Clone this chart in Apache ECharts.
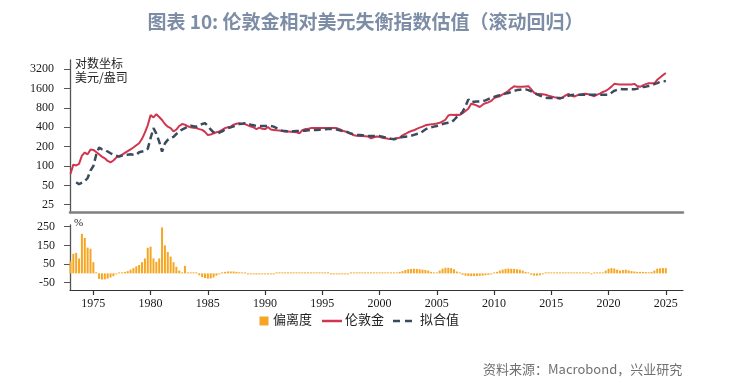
<!DOCTYPE html>
<html><head><meta charset="utf-8">
<script src="https://cdn.jsdelivr.net/npm/echarts@6/dist/echarts.min.js"></script>
<style>html,body{margin:0;padding:0;background:#fff}#c{width:731px;height:383px}</style>
</head><body><div id="c"></div>
<script>
// quarterly observations starting 1973 Q1
const startYear = 1973;
const stepYears = 0.25;

// London gold, USD/oz (log scale in chart)
const gold = [
  75, 105, 102, 108,
  145, 162, 152, 180,
  178, 165, 152, 140,
  132, 120, 114, 122,
  135, 143, 149, 160,
  171, 182, 194, 210,
  226, 265, 330, 430,
  620, 570, 640, 580,
  520, 450, 410, 390,
  345, 370, 420, 450,
  440, 415, 400, 395,
  389, 375, 365, 340,
  303, 310, 322, 335,
  345, 365, 389, 400,
  410, 440, 455, 465,
  455, 450, 430, 412,
  400, 376, 395, 380,
  376, 404, 370, 365,
  360, 356, 350, 345,
  343, 340, 337, 335,
  322, 360, 376, 380,
  389, 389, 389, 389,
  389, 389, 389, 389,
  389, 389, 375, 356,
  345, 330, 318, 300,
  295, 292, 292, 290,
  288, 270, 280, 288,
  285, 275, 270, 265,
  263, 265, 270, 275,
  300, 315, 335, 350,
  360, 378, 395, 410,
  430, 440, 445, 452,
  460, 470, 495, 525,
  610, 630, 625, 630,
  623, 665, 720, 780,
  930, 910, 870, 830,
  900, 950, 980, 1030,
  1140, 1180, 1220, 1300,
  1380, 1480, 1620, 1740,
  1720, 1710, 1710, 1730,
  1750, 1560, 1380, 1320,
  1320, 1310, 1290, 1240,
  1210, 1180, 1160, 1110,
  1170, 1260, 1330, 1240,
  1210, 1260, 1290, 1320,
  1330, 1310, 1260, 1220,
  1290, 1340, 1420, 1480,
  1580, 1720, 1900, 1880,
  1850, 1850, 1850, 1850,
  1860, 1900, 1760, 1710,
  1800, 1880, 1940, 1940,
  1940, 2200, 2380, 2600,
  2800
];

// fitted value (rolling regression), USD/oz
const fitted = [
  null, null, 56, 52,
  55, 58, 65, 85,
  100, 150, 194, 182,
  178, 168, 158, 150,
  145, 140, 145, 149,
  150, 152, 150, 149,
  164, 168, 172, 185,
  272, 389, 320, 240,
  167, 225, 255, 272,
  285, 315, 345, 370,
  389, 410, 424, 415,
  410, 437, 450, 465,
  420, 370, 335, 322,
  330, 345, 370, 389,
  400, 415, 435, 450,
  455, 465, 455, 440,
  430, 420, 420, 420,
  420, 420, 420, 410,
  390, 370, 355, 350,
  345, 345, 348, 350,
  350, 352, 355, 360,
  362, 365, 365, 368,
  370, 374, 376, 376,
  376, 370, 360, 350,
  345, 335, 320, 310,
  305, 303, 300, 296,
  294, 293, 292, 292,
  292, 285, 278, 270,
  265, 262, 265, 275,
  283, 286, 288, 295,
  305, 315, 322, 345,
  370, 390, 400, 410,
  420, 435, 450, 462,
  472, 480, 520, 580,
  623, 700, 845, 1085,
  980, 1000, 1010, 1010,
  1020, 1050, 1100, 1150,
  1190, 1230, 1270, 1310,
  1340, 1370, 1420, 1480,
  1520, 1540, 1560, 1560,
  1520, 1450, 1370, 1300,
  1250, 1200, 1160, 1140,
  1140, 1140, 1140, 1140,
  1160, 1200, 1240, 1270,
  1290, 1290, 1290, 1290,
  1290, 1290, 1290, 1290,
  1290, 1290, 1290, 1290,
  1290, 1380, 1480, 1540,
  1580, 1570, 1560, 1560,
  1560, 1560, 1600, 1650,
  1700, 1720, 1760, 1820,
  1880, 1950, 2030, 2070,
  2100
];

// deviation, %
const deviation = [
  65, 105, 110, 80,
  212, 190, 138, 132,
  60, 5, -30, -33,
  -32, -28, -22, -15,
  -5, 2, 5, 8,
  12, 20, 28, 38,
  45, 60, 80, 137,
  143, 80, 62, 80,
  246, 150, 115, 90,
  60, 35, 15, 5,
  40, 5, 5, 2,
  0, -10, -20, -25,
  -28, -27, -22, -12,
  -3, 5, 8, 10,
  10, 10, 8, 6,
  3, 0, -3, -5,
  -5, -6, -5, -4,
  -4, -3, -2, -1,
  0, 1, 2, 3,
  3, 3, 3, 4,
  4, 5, 5, 5,
  5, 5, 4, 3,
  2, 1, 0, -1,
  -2, -2, -2, -2,
  -1, -1, 0, 0,
  0, 1, 1, 1,
  1, 1, 0, 0,
  0, 0, 1, 1,
  2, 3, 5, 8,
  12, 18, 22, 24,
  25, 24, 22, 20,
  18, 15, 8, 3,
  5, 15, 25, 30,
  30, 28, 22, 10,
  0, -8, -12, -14,
  -15, -14, -14, -13,
  -12, -10, -8, -5,
  0, 8, 15, 20,
  24, 26, 25, 24,
  22, 20, 15, 8,
  0, -8, -12, -12,
  -10, -5, 0, 5,
  5, 3, 1, 0,
  1, 2, 2, 1,
  0, 1, 2, 2,
  1, 0, -1, 0,
  1, 2, 5, 15,
  25, 28, 26, 20,
  15, 18, 20, 16,
  12, 10, 8, 8,
  8, 7, 6, 8,
  15, 25, 27, 28,
  28
];

const priceTicks = [25, 50, 100, 200, 400, 800, 1600, 3200];
const devTicks = [-50, 50, 150, 250];
const yearTicks = [1975, 1980, 1985, 1990, 1995, 2000, 2005, 2010, 2015, 2020, 2025];

const titleText = '图表 10: 伦敦金相对美元失衡指数估值（滚动回归）';
const legendNames = ['偏离度', '伦敦金', '拟合值'];
const sourceText = '资料来源：Macrobond，兴业研究';

const dateOf = i => startYear + i * stepYears;
const goldData = gold.map((v, i) => [dateOf(i), Math.log2(v)]);
const fittedData = [];
fitted.forEach((v, i) => { if (v != null) fittedData.push([dateOf(i), Math.log2(v)]); });
const devData = deviation.map((v, i) => [dateOf(i), v]);

const C_GOLD = '#d1354f', C_FIT = '#3c4a5e', C_BAR = '#f5a623';
const serif = '"Liberation Serif", "DejaVu Serif", serif';
const cjk = '"Noto Sans CJK SC", sans-serif';

const chart = echarts.init(document.getElementById('c'), null, {renderer: 'canvas'});
const xMin = 1972.96, xMax = 2026.5;

chart.setOption({
  animation: false,
  backgroundColor: '#fff',
  grid: [
    {left: 70, right: 48, top: 60, height: 152.7, containLabel: false},
    {left: 70, right: 48, top: 225, height: 65, containLabel: false}
  ],
  xAxis: [
    {type: 'value', gridIndex: 0, min: xMin, max: xMax,
     axisLine: {show: true, onZero: false, lineStyle: {color: '#808080', width: 2.5}},
     axisTick: {show: false}, axisLabel: {show: false}, splitLine: {show: false}},
    {type: 'value', gridIndex: 1, min: xMin, max: xMax,
     axisLine: {show: true, onZero: false, lineStyle: {color: '#333', width: 1.2}},
     axisTick: {show: true, customValues: yearTicks, length: 5, inside: false, lineStyle: {color: '#333', width: 1.2}},
     axisLabel: {show: true, customValues: yearTicks, formatter: v => String(Math.round(v)),
                 color: '#1a1a1a', fontFamily: serif, fontSize: 12, margin: 8},
     splitLine: {show: false}}
  ],
  yAxis: [
    {type: 'value', gridIndex: 0, min: Math.log2(25) - 8 / 19.3, max: Math.log2(3200) + 9.3 / 19.3,
     axisLine: {show: true, onZero: false, lineStyle: {color: '#555', width: 1.3}},
     axisTick: {show: true, customValues: priceTicks.map(Math.log2), length: 6, lineStyle: {color: '#555'}},
     axisLabel: {show: true, customValues: priceTicks.map(Math.log2),
                 formatter: v => String(Math.round(Math.pow(2, v))),
                 color: '#1a1a1a', fontFamily: serif, fontSize: 12, margin: 16},
     splitLine: {show: false}},
    {type: 'value', gridIndex: 1, min: -89, max: 259,
     axisLine: {show: true, onZero: false, lineStyle: {color: '#555', width: 1.3}},
     axisTick: {show: true, customValues: devTicks, length: 6, lineStyle: {color: '#555'}},
     axisLabel: {show: true, customValues: devTicks, color: '#1a1a1a', fontFamily: serif, fontSize: 12, margin: 15},
     splitLine: {show: false}}
  ],
  series: [
    {name: legendNames[0], type: 'bar', xAxisIndex: 1, yAxisIndex: 1, data: devData,
     barWidth: 2, barMinHeight: 1, itemStyle: {color: C_BAR}},
    {name: legendNames[1], type: 'line', xAxisIndex: 0, yAxisIndex: 0, data: goldData,
     symbol: 'none', lineStyle: {color: C_GOLD, width: 2}, z: 3},
    {name: legendNames[2], type: 'line', xAxisIndex: 0, yAxisIndex: 0, data: fittedData,
     symbol: 'none', lineStyle: {color: C_FIT, width: 2.5, type: [7, 4]}, z: 4}
  ],
  graphic: [
    {type: 'text', left: 'center', top: 12, style: {text: titleText, font: 'bold 19px ' + cjk, fill: '#7d8da6'}},
    {type: 'text', x: 75, y: 57, style: {text: '对数坐标', font: '12px ' + cjk, fill: '#222'}},
    {type: 'text', x: 75, y: 71, style: {text: '美元/盎司', font: '12px ' + cjk, fill: '#222'}},
    {type: 'text', x: 74, y: 218, style: {text: '%', font: '11px ' + serif, fill: '#222'}},
    // legend
    {type: 'rect', shape: {x: 259.5, y: 316.5, width: 9, height: 9}, style: {fill: C_BAR}},
    {type: 'text', x: 273, y: 313, style: {text: legendNames[0], font: '13px ' + cjk, fill: '#222'}},
    {type: 'line', shape: {x1: 322, y1: 321, x2: 342, y2: 321}, style: {stroke: C_GOLD, lineWidth: 2.5}},
    {type: 'text', x: 345, y: 313, style: {text: legendNames[1], font: '13px ' + cjk, fill: '#222'}},
    {type: 'line', shape: {x1: 393, y1: 321, x2: 417, y2: 321}, style: {stroke: C_FIT, lineWidth: 2.5, lineDash: [7, 5]}},
    {type: 'text', x: 420, y: 313, style: {text: legendNames[2], font: '13px ' + cjk, fill: '#222'}},
    {type: 'text', x: 483, y: 363, style: {text: sourceText, font: '13px ' + cjk, fill: '#707070'}}
  ]
});
</script>
</body></html>
